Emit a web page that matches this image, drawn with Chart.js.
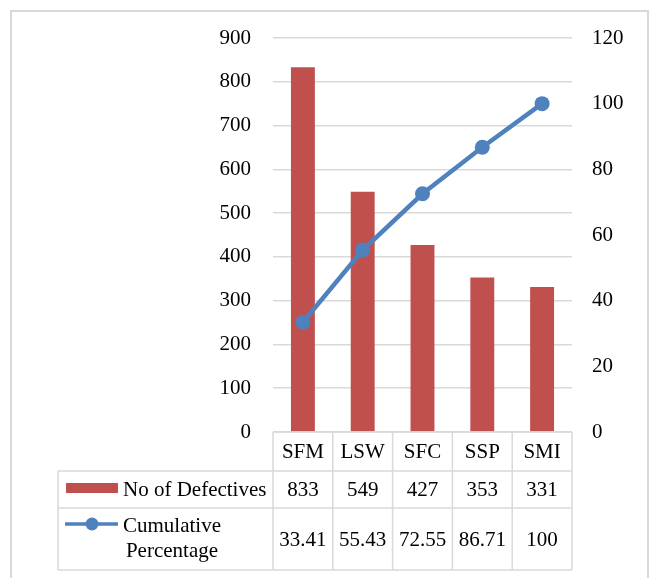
<!DOCTYPE html>
<html>
<head>
<meta charset="utf-8">
<script src="https://cdn.jsdelivr.net/npm/chart.js@4"></script>
<style>
  body { margin: 0; background: #fff; }
  #wrap { width: 657px; height: 578px; position: relative; }
</style>
</head>
<body>
<div id="wrap"><canvas id="pareto" width="657" height="578"></canvas></div>
<script>
const categories = ['SFM', 'LSW', 'SFC', 'SSP', 'SMI'];
const defectives = [833, 549, 427, 353, 331];
const cumulative = [33.41, 55.43, 72.55, 86.71, 100];
const cumulativeLabels = ['33.41', '55.43', '72.55', '86.71', '100'];

const FONT = '"Liberation Serif", "Times New Roman", serif';
const RED = '#c0504d';
const BLUE = '#4f81bd';
const GRID = '#d9d9d9';

// draws the outer frame and the Excel-like data table under the plot
const dataTable = {
    id: 'dataTable',
    afterDraw(chart) {
        const c = chart.ctx;
        const area = chart.chartArea;
        const x = chart.scales.x;
        const colW = (area.right - area.left) / categories.length;
        const top = area.bottom;
        const r1 = top + 39, r2 = r1 + 37, r3 = r2 + 62;
        const legL = 58;

        c.save();
        // outer frame
        c.strokeStyle = GRID;
        c.lineWidth = 2;
        c.strokeRect(11, 11, 637, 600);

        // table lines
        c.lineWidth = 1.5;
        c.beginPath();
        c.moveTo(area.left, top); c.lineTo(area.right, top);
        c.moveTo(legL, r1); c.lineTo(area.right, r1);
        c.moveTo(legL, r2); c.lineTo(area.right, r2);
        c.moveTo(legL, r3); c.lineTo(area.right, r3);
        c.moveTo(legL, r1); c.lineTo(legL, r3);
        for (let i = 0; i <= categories.length; i++) {
            const px = area.left + i * colW;
            c.moveTo(px, top); c.lineTo(px, r3);
        }
        c.stroke();

        // cell text
        c.fillStyle = '#000';
        c.font = '21px ' + FONT;
        c.textAlign = 'center';
        c.textBaseline = 'middle';
        categories.forEach((cat, i) => {
            const cx = x.getPixelForValue(i);
            c.fillText(cat, cx, (top + r1) / 2 + 1);
            c.fillText(String(defectives[i]), cx, (r1 + r2) / 2 + 1);
            c.fillText(cumulativeLabels[i], cx, (r2 + r3) / 2 + 1);
        });

        // legend keys
        c.fillStyle = RED;
        c.fillRect(66, 483, 52, 10);
        c.strokeStyle = BLUE;
        c.lineWidth = 3.5;
        c.beginPath();
        c.moveTo(65, 524); c.lineTo(118, 524);
        c.stroke();
        c.fillStyle = BLUE;
        c.beginPath();
        c.arc(92, 524, 6.5, 0, Math.PI * 2);
        c.fill();

        c.fillStyle = '#000';
        c.textAlign = 'left';
        c.fillText(chart.data.datasets[1].label, 123, (r1 + r2) / 2 + 1);
        c.textAlign = 'center';
        c.fillText('Cumulative', 172, 526);
        c.fillText('Percentage', 172, 551);
        c.restore();
    }
};

new Chart(document.getElementById('pareto'), {
    data: {
        labels: categories,
        datasets: [
            {
                type: 'line',
                label: 'Cumulative Percentage',
                data: cumulative,
                yAxisID: 'y1',
                borderColor: BLUE,
                backgroundColor: BLUE,
                borderWidth: 4.5,
                pointRadius: 7.5,
                pointHoverRadius: 7.5,
                pointBorderWidth: 0,
                order: 0
            },
            {
                type: 'bar',
                label: 'No of Defectives',
                data: defectives,
                yAxisID: 'y',
                backgroundColor: RED,
                barPercentage: 0.4,
                categoryPercentage: 1.0,
                order: 1
            }
        ]
    },
    options: {
        responsive: false,
        animation: false,
        layout: { padding: { top: 38, bottom: 146, left: 0, right: 0 } },
        plugins: {
            legend: { display: false },
            tooltip: { enabled: false }
        },
        scales: {
            x: { display: false, offset: true },
            y: {
                position: 'left',
                min: 0, max: 900,
                ticks: { stepSize: 100, color: '#000', padding: 22, font: { family: FONT, size: 21 } },
                grid: { color: GRID, lineWidth: 1.5, drawTicks: false },
                border: { display: false },
                afterFit(s) { s.width = 273; }
            },
            y1: {
                position: 'right',
                min: 0, max: 120,
                ticks: { stepSize: 20, color: '#000', padding: 12, font: { family: FONT, size: 21 } },
                grid: { display: false },
                border: { display: false },
                afterFit(s) { s.width = 85; }
            }
        }
    },
    plugins: [dataTable]
});
</script>
</body>
</html>
